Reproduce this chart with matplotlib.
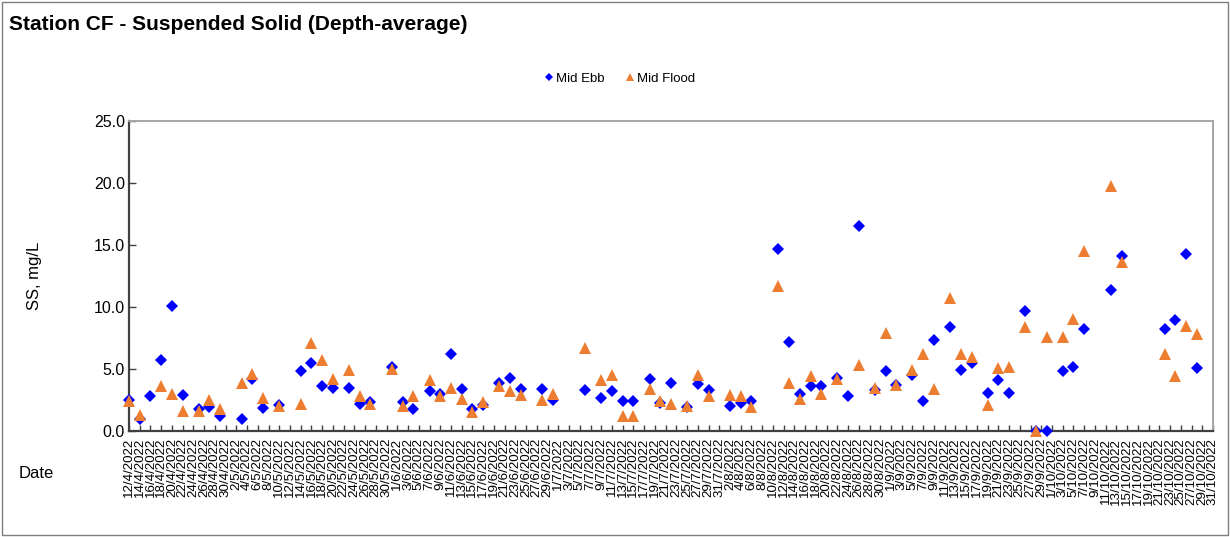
import numpy as np
import pandas as pd
import matplotlib
matplotlib.use("Agg")
import matplotlib.pyplot as plt
import matplotlib.patches as patches

plt.rcParams['font.family'] = ['Liberation Sans', 'DejaVu Sans']

#========================================================
# data (d/m/yyyy)
#========================================================
dates = ['12/4/2022', '14/4/2022', '16/4/2022', '18/4/2022', '20/4/2022', '22/4/2022',
         '25/4/2022', '27/4/2022', '29/4/2022', '3/5/2022', '5/5/2022', '7/5/2022',
         '10/5/2022', '14/5/2022', '16/5/2022', '18/5/2022', '20/5/2022', '23/5/2022',
         '25/5/2022', '27/5/2022', '31/5/2022', '2/6/2022', '4/6/2022', '7/6/2022',
         '9/6/2022', '11/6/2022', '13/6/2022', '15/6/2022', '17/6/2022', '20/6/2022',
         '22/6/2022', '24/6/2022', '28/6/2022', '30/6/2022', '6/7/2022', '9/7/2022',
         '11/7/2022', '13/7/2022', '15/7/2022', '18/7/2022', '20/7/2022', '22/7/2022',
         '25/7/2022', '27/7/2022', '29/7/2022', '2/8/2022', '4/8/2022', '6/8/2022',
         '11/8/2022', '13/8/2022', '15/8/2022', '17/8/2022', '19/8/2022', '22/8/2022',
         '24/8/2022', '26/8/2022', '29/8/2022', '31/8/2022', '2/9/2022', '5/9/2022',
         '7/9/2022', '9/9/2022', '12/9/2022', '14/9/2022', '16/9/2022', '19/9/2022',
         '21/9/2022', '23/9/2022', '26/9/2022', '28/9/2022', '30/9/2022', '3/10/2022',
         '5/10/2022', '7/10/2022', '12/10/2022', '14/10/2022', '22/10/2022', '24/10/2022',
         '26/10/2022', '28/10/2022']

mid_ebb = [2.5, 1.0, 2.8, 5.7, 10.1, 2.9,
           1.8, 1.9, 1.2, 1.0, 4.2, 1.85,
           2.1, 4.8, 5.5, 3.65, 3.5, 3.5,
           2.2, 2.3, 5.2, 2.3, 1.8, 3.2,
           3.0, 6.2, 3.4, 1.8, 2.1, 3.9,
           4.3, 3.4, 3.4, 2.5, 3.3, 2.65,
           3.2, 2.45, 2.45, 4.2, 2.25, 3.9,
           1.9, 3.8, 3.3, 2.05, 2.25, 2.4,
           14.7, 7.2, 3.0, 3.6, 3.65, 4.25,
           2.8, 16.5, 3.3, 4.8, 3.7, 4.5,
           2.4, 7.3, 8.4, 4.9, 5.5, 3.1,
           4.1, 3.1, 9.7, 0.0, 0.0, 4.8,
           5.2, 8.2, 11.4, 14.1, 8.2, 8.95,
           14.3, 5.05]

mid_flood = [2.4, 1.3, np.nan, 3.6, 3.0, 1.6,
             1.6, 2.5, 1.8, 3.9, 4.6, 2.7,
             2.0, 2.2, 7.1, 5.7, 4.2, 4.9,
             2.8, 2.2, 5.0, 2.0, 2.8, 4.1,
             2.8, 3.5, 2.6, 1.5, 2.3, 3.6,
             3.2, 2.9, 2.5, 3.0, 6.7, 4.1,
             4.5, 1.2, 1.2, 3.4, 2.45, 2.2,
             2.05, 4.5, 2.8, 2.9, 2.8, 1.9,
             11.7, 3.9, 2.6, 4.4, 3.0, 4.2,
             np.nan, 5.3, 3.45, 7.9, 3.75, 4.9,
             6.2, 3.35, 10.75, 6.25, 6.0, 2.1,
             5.1, 5.2, 8.4, 0.0, 7.6, 7.55,
             9.0, 14.5, 19.75, 13.65, 6.2, 4.4,
             8.5, 7.8]

x = pd.to_datetime(dates, format='%d/%m/%Y')
start = pd.Timestamp('2022-04-12')
end = pd.Timestamp('2022-10-31')

#======================================================
# Plotting
#======================================================
fig = plt.figure(figsize=(12.3, 5.37), dpi=100)
ax = fig.add_axes([129/1230, 1 - 431/537, (1213 - 129)/1230, (431 - 121)/537])

ax.plot(x, mid_ebb, linestyle='none', marker='D', ms=6.4, color='#0000FF',
        markeredgewidth=0, label='Mid Ebb', clip_on=False, zorder=3)
ax.plot(x, mid_flood, linestyle='none', marker='^', ms=9.2, color='#ED7D31',
        markeredgewidth=0, label='Mid Flood', clip_on=False, zorder=4)

ax.set_xlim(start, end)
ax.set_ylim(0, 25)

tick_days = pd.date_range(start, end, freq='2D')
ax.set_xticks(tick_days)
ax.set_xticklabels([f"{d.day}/{d.month}/{d.year}" for d in tick_days],
                   rotation=90, fontsize=9.6)
ax.set_yticks(np.arange(0, 25.1, 5))
ax.set_yticklabels([f"{v:.1f}" for v in np.arange(0, 25.1, 5)], fontsize=11.5)

ax.tick_params(axis='x', direction='in', length=4, width=1, color='#404040', pad=5)
ax.tick_params(axis='y', direction='in', length=5, width=1, color='#404040', pad=3)

# frame
for s in ['left', 'bottom']:
    ax.spines[s].set_color('#404040')
    ax.spines[s].set_linewidth(1.6)
for s in ['top', 'right']:
    ax.spines[s].set_color('#A6A6A6')
    ax.spines[s].set_linewidth(1.4)

# texts
fig.text(9/1230, 1 - 24/537, 'Station CF - Suspended Solid (Depth-average)',
         fontsize=15, fontweight='bold', ha='left', va='center')
fig.text(35/1230, 1 - 276/537, 'SS, mg/L', rotation=90, fontsize=12,
         ha='center', va='center')
fig.text(19/1230, 1 - 473/537, 'Date', fontsize=12, ha='left', va='center')

leg = fig.legend(loc='center', bbox_to_anchor=(620/1230, 1 - 79/537), ncol=2,
                 frameon=False, fontsize=9.5, markerscale=0.6,
                 handlelength=0.6, handletextpad=0.25, columnspacing=1.6)

# outer chart border
fig.patches.append(patches.Rectangle((2/1230, 2/537), 1226/1230, 533/537,
                                     transform=fig.transFigure, fill=False,
                                     edgecolor='#7F7F7F', linewidth=1.0))

fig.savefig('out.png', dpi=100)
